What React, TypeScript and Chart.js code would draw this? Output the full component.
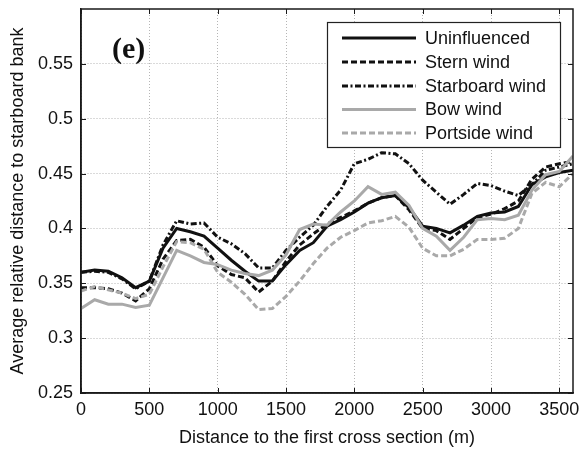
import React, { useEffect, useRef } from "react";
import { Chart, registerables } from "chart.js";

Chart.register(...registerables);

// Distance to the first cross section (m)
const distances = [
  0, 100, 200, 300, 400, 500, 600, 700, 800, 900, 1000, 1100, 1200, 1300, 1400, 1500, 1600, 1700, 1800,
  1900, 2000, 2100, 2200, 2300, 2400, 2500, 2600, 2700, 2800, 2900, 3000, 3100, 3200, 3300, 3400, 3500, 3600,
];

const uninfluenced = [
  0.360, 0.362, 0.361, 0.355, 0.346, 0.352, 0.382, 0.400, 0.397, 0.393, 0.382, 0.371, 0.361, 0.352, 0.352,
  0.367, 0.380, 0.387, 0.402, 0.408, 0.415, 0.423, 0.428, 0.430, 0.419, 0.402, 0.400, 0.396, 0.403, 0.411,
  0.414, 0.415, 0.420, 0.440, 0.447, 0.451, 0.453,
];

const sternWind = [
  0.346, 0.346, 0.345, 0.341, 0.334, 0.345, 0.372, 0.389, 0.390, 0.383, 0.366, 0.358, 0.355, 0.342, 0.352,
  0.370, 0.385, 0.395, 0.404, 0.410, 0.416, 0.423, 0.428, 0.430, 0.417, 0.400, 0.398, 0.390, 0.400, 0.410,
  0.413, 0.418, 0.425, 0.445, 0.456, 0.459, 0.461,
];

const starboardWind = [
  0.360, 0.361, 0.360, 0.354, 0.345, 0.352, 0.385, 0.407, 0.404, 0.405, 0.392, 0.386, 0.377, 0.364, 0.364,
  0.380, 0.392, 0.403, 0.420, 0.435, 0.459, 0.463, 0.469, 0.468, 0.459, 0.444, 0.433, 0.422, 0.431, 0.441,
  0.439, 0.434, 0.430, 0.440, 0.453, 0.456, 0.459,
];

const bowWind = [
  0.327, 0.335, 0.331, 0.331, 0.328, 0.330, 0.355, 0.380, 0.375, 0.369, 0.367, 0.362, 0.359, 0.357, 0.362,
  0.376, 0.399, 0.404, 0.403, 0.415, 0.425, 0.438, 0.431, 0.433, 0.421, 0.400, 0.393, 0.380, 0.392, 0.408,
  0.409, 0.408, 0.412, 0.435, 0.449, 0.452, 0.466,
];

const portsideWind = [
  0.343, 0.347, 0.344, 0.341, 0.336, 0.340, 0.365, 0.388, 0.387, 0.381, 0.360, 0.351, 0.340, 0.326, 0.327,
  0.338, 0.352, 0.368, 0.382, 0.392, 0.398, 0.405, 0.407, 0.411, 0.401, 0.382, 0.375, 0.375, 0.381, 0.390,
  0.390, 0.391, 0.400, 0.432, 0.442, 0.438, 0.450,
];

const seriesNames = ["Uninfluenced", "Stern wind", "Starboard wind", "Bow wind", "Portside wind"];

const xTicks = [0, 500, 1000, 1500, 2000, 2500, 3000, 3500];
const yTicks = [0.25, 0.3, 0.35, 0.4, 0.45, 0.5, 0.55];
const xMin = 0;
const xMax = 3600;
const yMin = 0.25;
const yMax = 0.6;

const panelLabel = "(e)";
const xTitle = "Distance to the first cross section (m)";
const yTitle = "Average relative distance to starboard bank";

const FONT = "'Liberation Sans', Arial, sans-serif";

const toPoints = (vals: number[]) => vals.map((v, i) => ({ x: distances[i], y: v }));

const framePlugin = {
  id: "frameAndLegend",
  afterDatasetsDraw(chart: any) {
    const { ctx, chartArea: a, scales } = chart;
    ctx.save();
    // axes box
    ctx.strokeStyle = "#1a1a1a";
    ctx.lineWidth = 1.5;
    ctx.setLineDash([]);
    ctx.strokeRect(a.left, a.top, a.right - a.left, a.bottom - a.top);
    // inner ticks on all four sides
    const L = 5;
    ctx.beginPath();
    xTicks.forEach((v) => {
      const px = Math.round(scales.x.getPixelForValue(v)) + 0.5;
      ctx.moveTo(px, a.bottom);
      ctx.lineTo(px, a.bottom - L);
      ctx.moveTo(px, a.top);
      ctx.lineTo(px, a.top + L);
    });
    yTicks.forEach((v) => {
      const py = Math.round(scales.y.getPixelForValue(v)) + 0.5;
      ctx.moveTo(a.left, py);
      ctx.lineTo(a.left + L, py);
      ctx.moveTo(a.right, py);
      ctx.lineTo(a.right - L, py);
    });
    ctx.lineWidth = 1;
    ctx.stroke();

    // panel label
    ctx.fillStyle = "#111";
    ctx.font = "bold 30px 'Liberation Serif', 'Times New Roman', serif";
    ctx.textAlign = "left";
    ctx.textBaseline = "middle";
    ctx.fillText(panelLabel, a.left + 31, a.top + 41);

    // legend box
    const bx = 327, by = 22, bw = 233, bh = 125;
    ctx.fillStyle = "#ffffff";
    ctx.fillRect(bx, by, bw, bh);
    ctx.strokeStyle = "#222";
    ctx.lineWidth = 1.2;
    ctx.strokeRect(bx + 0.5, by + 0.5, bw, bh);
    const rowY = [38, 62, 86, 109.5, 133];
    chart.data.datasets.forEach((ds: any, i: number) => {
      const y = rowY[i];
      ctx.beginPath();
      ctx.strokeStyle = ds.borderColor;
      ctx.lineWidth = ds.borderWidth;
      ctx.setLineDash(ds.borderDash || []);
      ctx.moveTo(342, y);
      ctx.lineTo(416, y);
      ctx.stroke();
      ctx.setLineDash([]);
      ctx.fillStyle = "#111";
      ctx.font = `18px ${FONT}`;
      ctx.textBaseline = "middle";
      ctx.fillText(ds.label, 425, y + 1);
    });
    ctx.restore();
  },
};

export default function App() {
  const canvasRef = useRef<HTMLCanvasElement | null>(null);

  useEffect(() => {
    if (!canvasRef.current) return;
    const black = "#111111";
    const gray = "#a9a9a9";
    const styles = [
      { color: black, dash: [] as number[] },
      { color: black, dash: [6, 3] },
      { color: black, dash: [6, 2.5, 2, 2.5] },
      { color: gray, dash: [] as number[] },
      { color: gray, dash: [6, 3] },
    ];
    const series = [uninfluenced, sternWind, starboardWind, bowWind, portsideWind];
    const chart = new Chart(canvasRef.current, {
      type: "line",
      data: {
        datasets: series.map((vals, i) => ({
          label: seriesNames[i],
          data: toPoints(vals),
          borderColor: styles[i].color,
          backgroundColor: styles[i].color,
          borderDash: styles[i].dash,
          borderWidth: 3,
          pointRadius: 0,
          tension: 0,
          fill: false,
          order: 5 - i,
        })),
      },
      options: {
        animation: false,
        responsive: true,
        maintainAspectRatio: false,
        layout: { padding: { top: 9, right: 9, left: 0, bottom: 0 } },
        plugins: {
          legend: { display: false },
          tooltip: { enabled: false },
        },
        scales: {
          x: {
            type: "linear",
            min: xMin,
            max: xMax,
            afterBuildTicks: (scale: any) => {
              scale.ticks = xTicks.map((v) => ({ value: v }));
            },
            afterFit: (scale: any) => {
              scale.height = 60;
              scale.paddingLeft = 0;
              scale.paddingRight = 0;
            },
            ticks: {
              color: "#111",
              font: { family: FONT, size: 18 },
              padding: 6,
              maxRotation: 0,
              autoSkip: false,
              callback: (v: any) => String(v),
            },
            grid: { color: "#b5b5b5", lineWidth: 1, drawTicks: false },
            border: { display: true, color: "#1a1a1a", width: 1.5, dash: [1, 2] },
            title: {
              display: true,
              text: xTitle,
              color: "#111",
              font: { family: FONT, size: 18 },
              padding: { top: 0, bottom: 4 },
            },
          },
          y: {
            type: "linear",
            min: yMin,
            max: yMax,
            afterBuildTicks: (scale: any) => {
              scale.ticks = yTicks.map((v) => ({ value: v }));
            },
            afterFit: (scale: any) => {
              scale.width = 81;
              scale.paddingTop = 0;
              scale.paddingBottom = 0;
            },
            ticks: {
              color: "#111",
              font: { family: FONT, size: 18 },
              padding: 8,
              autoSkip: false,
              callback: (v: any) => String(Number(Number(v).toFixed(2))),
            },
            grid: { color: "#b5b5b5", lineWidth: 1, drawTicks: false },
            border: { display: true, color: "#1a1a1a", width: 1.5, dash: [1, 2] },
            title: {
              display: true,
              text: yTitle,
              color: "#111",
              font: { family: FONT, size: 18 },
              padding: { top: 7, bottom: 0 },
            },
          },
        },
      },
      plugins: [framePlugin],
    });
    return () => chart.destroy();
  }, []);

  return (
    <div style={{ position: "fixed", left: 0, top: 0, width: 582, height: 453, background: "#fff" }}>
      <canvas ref={canvasRef} />
    </div>
  );
}
